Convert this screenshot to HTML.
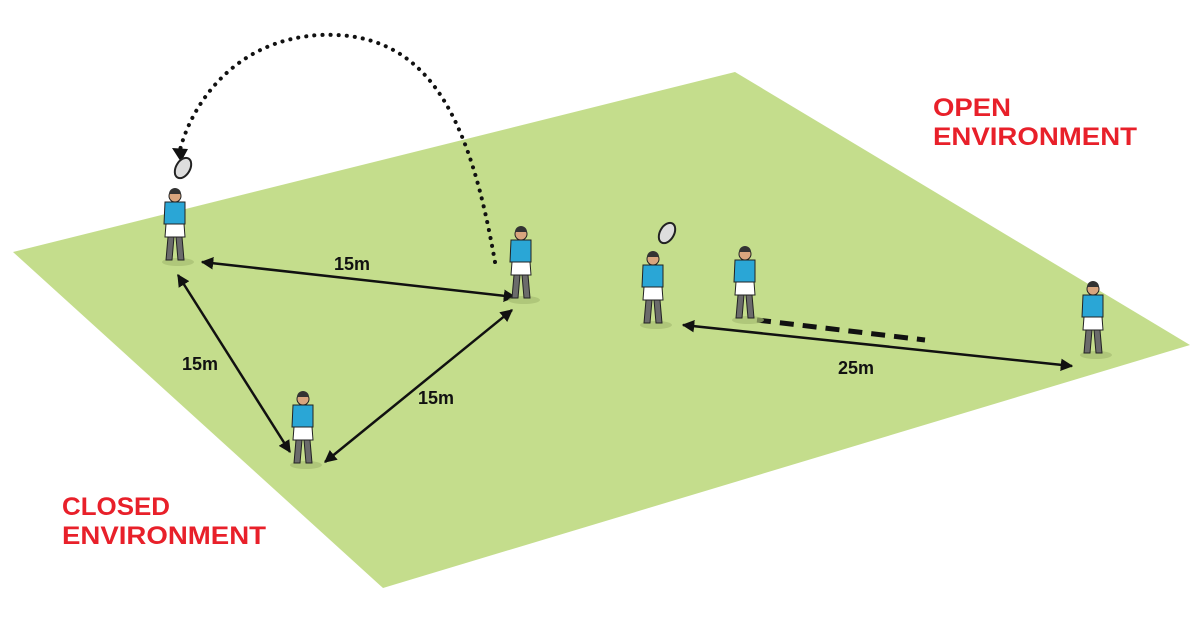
<!DOCTYPE html>
<html><head><style>
body{margin:0;background:#fff;width:1201px;height:624px;overflow:hidden}
svg{display:block}
.t{font-family:"Liberation Sans",sans-serif;font-weight:bold}
</style></head><body>
<svg width="1201" height="624" viewBox="0 0 1201 624" xmlns="http://www.w3.org/2000/svg">
<defs>
<marker id="ah" viewBox="0 0 10 10" refX="9" refY="5" markerWidth="5" markerHeight="5" orient="auto-start-reverse"><path d="M0,0L10,5L0,10z" fill="#111"/></marker>
<g id="pl">
<ellipse cx="6" cy="0" rx="16" ry="4" fill="#a6be72" opacity="0.7"/>
<path d="M-6,-2 L-4,-25 L2,-25 L0,-2z" fill="#6b6b6b" stroke="#222" stroke-width="1"/>
<path d="M6,-2 L4,-25 L10,-25 L12,-2z" fill="#6b6b6b" stroke="#222" stroke-width="1"/>
<path d="M-7,-25 L-6,-38 L12,-38 L13,-25z" fill="#fff" stroke="#222" stroke-width="1"/>
<path d="M-8,-38 L-7,-60 L13,-60 L13,-38z" fill="#2aa6d6" stroke="#222" stroke-width="1"/>
<circle cx="3" cy="-66" r="6" fill="#d9a57e" stroke="#222" stroke-width="1"/>
<path d="M-3,-68 a6,6 0 0 1 12,0z" fill="#333"/>
</g>
<g id="ball"><ellipse cx="0" cy="0" rx="7" ry="11" fill="#ddd" stroke="#222" stroke-width="2" transform="rotate(30)"/></g>
</defs>
<polygon points="13,252 735,72 1190,345 383,588" fill="#c4dd8c"/>
<path d="M495,262 C470,120 430,30 320,35 C230,40 190,110 180,150" fill="none" stroke="#111" stroke-width="4" stroke-dasharray="0.1 8" stroke-linecap="round"/>
<path d="M172,148 L181,162 L188,149z" fill="#111"/>
<g stroke="#111" stroke-width="2.5" fill="none" marker-start="url(#ah)" marker-end="url(#ah)">
<line x1="202" y1="262" x2="515" y2="297"/>
<line x1="178" y1="275" x2="290" y2="452"/>
<line x1="512" y1="310" x2="325" y2="462"/>
<line x1="683" y1="325" x2="1072" y2="366"/>
</g>
<line x1="757" y1="320" x2="925" y2="340" stroke="#111" stroke-width="5" stroke-dasharray="14 9"/>
<use href="#pl" x="172" y="262"/>
<use href="#pl" x="518" y="300"/>
<use href="#pl" x="300" y="465"/>
<use href="#pl" x="650" y="325"/>
<use href="#pl" x="742" y="320"/>
<use href="#pl" x="1090" y="355"/>
<use href="#ball" x="183" y="168"/>
<use href="#ball" x="667" y="233"/>
<g class="t" font-size="18" fill="#111">
<text x="334" y="270">15m</text>
<text x="182" y="370">15m</text>
<text x="418" y="404">15m</text>
<text x="838" y="374">25m</text>
</g>
<g class="t" font-size="25" fill="#e8202a">
<text x="933" y="116" textLength="78" lengthAdjust="spacingAndGlyphs">OPEN</text>
<text x="933" y="145" textLength="204" lengthAdjust="spacingAndGlyphs">ENVIRONMENT</text>
<text x="62" y="515" textLength="108" lengthAdjust="spacingAndGlyphs">CLOSED</text>
<text x="62" y="544" textLength="204" lengthAdjust="spacingAndGlyphs">ENVIRONMENT</text>
</g>
</svg>
</body></html>
